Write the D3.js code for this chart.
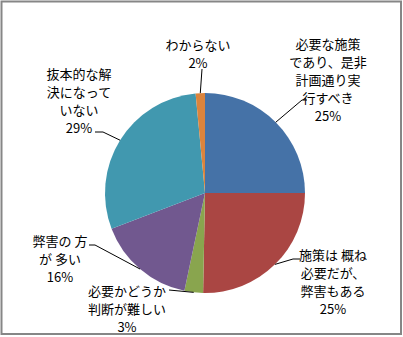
<!DOCTYPE html>
<html><head><meta charset="utf-8">
<script src="https://cdn.jsdelivr.net/npm/d3@7"></script>
<style>
html,body{margin:0;padding:0;background:#fff;}
svg{display:block;}
text{font-family:"Noto Sans CJK JP","Noto Sans",sans-serif;font-size:13px;fill:#000;}
</style></head>
<body>
<svg id="chart" width="403" height="337"></svg>
<script>
// Data
const categories = [
  ["必要な施策", "であり、是非", "計画通り実", "行すべき"],
  ["施策は 概ね", "必要だが、", "弊害もある"],
  ["必要かどうか", "判断が難しい"],
  ["弊害の 方", "が 多い"],
  ["抜本的な解", "決になって", "いない"],
  ["わからない"]
];
const values = [25.0, 25.3, 3.0, 15.9, 29.3, 1.5];
const colors = ["#4572A7", "#AA4643", "#89A54E", "#71588F", "#4198AF", "#DB843D"];

// Layout (label block centre, first line y, and leader elbow points)
const labelLayout = [
  {x: 328, y: 43, elbow: [[302, 100], [307, 100]]},
  {x: 333, y: 254, elbow: [[293, 259], [300, 259]]},
  {x: 127, y: 290, elbow: [[169, 290]]},
  {x: 60, y: 240, elbow: [[95, 245], [89, 245]]},
  {x: 79, y: 73, elbow: [[103, 132], [95, 132]]},
  {x: 198, y: 44, elbow: [[202, 69]]}
];
const lineH = 18.2;

const W = 403, H = 337;
const cx = 205, cy = 193, R = 100;
const svg = d3.select("#chart");

svg.append("rect").attr("x", 1.5).attr("y", 1.5).attr("width", 399.5).attr("height", 332.5)
  .attr("fill", "#fff").attr("stroke", "#868686").attr("stroke-width", 2);

const pie = d3.pie().sort(null).value(d => d)(values);
const arc = d3.arc().innerRadius(0).outerRadius(R);
const edge = d3.arc().innerRadius(R).outerRadius(R);

const g = svg.append("g").attr("transform", `translate(${cx},${cy})`);
g.selectAll("path.slice").data(pie).enter().append("path")
  .attr("class", "slice")
  .attr("d", arc)
  .attr("fill", (d, i) => colors[i]);

// Leader lines
const line = d3.line();
pie.forEach((d, i) => {
  const c = edge.centroid(d);
  const p0 = [cx + c[0], cy + c[1]];
  const pts = [p0].concat(labelLayout[i].elbow);
  svg.append("path").attr("d", line(pts)).attr("fill", "none")
    .attr("stroke", "#000").attr("stroke-width", 1);
});

// Labels
pie.forEach((d, i) => {
  const L = labelLayout[i];
  const lines = categories[i].concat([Math.round(values[i]) + "%"]);
  const t = svg.append("text").attr("text-anchor", "middle");
  lines.forEach((s, k) => {
    t.append("tspan").attr("x", L.x).attr("y", L.y + k * lineH)
      .attr("dominant-baseline", "central").text(s);
  });
});
</script>
</body></html>
